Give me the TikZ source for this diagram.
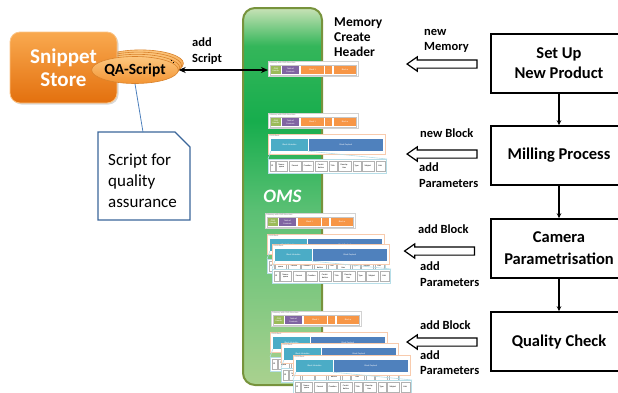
\documentclass[tikz,border=0pt]{standalone}
\usepackage{fontspec}
\setmainfont{Carlito}
\usetikzlibrary{arrows.meta,shapes.arrows,shapes.geometric,shadows}

\definecolor{storetop}{HTML}{F9A94F}
\definecolor{storebot}{HTML}{E3700E}
\definecolor{qatop}{HTML}{FCC77F}
\definecolor{qabot}{HTML}{F39433}
\definecolor{qaline}{HTML}{D9822B}
\definecolor{notebd}{HTML}{3A6699}
\definecolor{omsbd}{HTML}{77933C}
\definecolor{omstop}{HTML}{C8E2B6}
\definecolor{omsupper}{HTML}{34B65A}
\definecolor{omsdark}{HTML}{17AD4D}
\definecolor{omsmid}{HTML}{5BC074}
\definecolor{omsbot}{HTML}{AAD18F}
\definecolor{hdrgreen}{HTML}{9BBB59}
\definecolor{tocpurple}{HTML}{8064A2}
\definecolor{blkorange}{HTML}{F79646}
\definecolor{metacyan}{HTML}{4BACC6}
\definecolor{payblue}{HTML}{4F81BD}
\definecolor{blkbd}{HTML}{F8CBAD}
\definecolor{rowbd}{HTML}{B7DEE8}

\pgfdeclareverticalshading{omsshade}{100bp}{color(0bp)=(omsbot); color(25bp)=(omsbot); color(48bp)=(omsmid); color(60bp)=(omsdark); color(70bp)=(omsupper); color(75bp)=(omstop); color(100bp)=(omstop)}

\tikzset{
  tinytext/.style={font=\fontsize{2.2}{2.5}\selectfont, inner sep=0pt},
  memframe/.style={draw=gray!35, line width=1pt, fill=white, minimum width=90pt, minimum height=15pt, inner sep=0pt},
  memcell/.style={tinytext, text=white, align=center, minimum height=8pt},
  blkframe/.style={draw=blkbd, line width=1.2pt, fill=white, minimum width=117pt, minimum height=20pt, inner sep=0pt},
  rowframe/.style={draw=rowbd, line width=1.2pt, fill=white, minimum width=118pt, minimum height=14pt, inner sep=0pt},
  rowline/.style={draw=rowbd, line width=.6pt},
  fieldcell/.style={tinytext, draw=gray!60, line width=.35pt, fill=white, align=center, minimum height=10pt}
}

% one memory snapshot: name, x, y (top left)
\newcommand{\memstruct}[3]{%
  \node[memframe, anchor=north west] (#1) at (#2,#3) {};
  \begin{scope}[shift={(#2,#3)}]
    \node[tinytext, text=gray, anchor=north west] (#1lbl) at (1.5,0.6) {Memory with OMS Structure};
    \draw[gray!45, line width=.4pt] (2,4) rectangle (88.5,14);
    \node[memcell, fill=hdrgreen, minimum width=10pt] (#1hdr) at (8,9) {OMS\\Header};
    \node[memcell, fill=tocpurple, minimum width=17pt] (#1toc) at (22.5,9) {Table of\\Contents};
    \node[memcell, fill=blkorange, minimum width=23pt] (#1first) at (44.5,9) {Block 1};
    \node[memcell, fill=blkorange, minimum width=7pt] (#1dots) at (60.5,9) {...};
    \node[memcell, fill=blkorange, minimum width=22pt] (#1last) at (77,9) {Block n};
  \end{scope}}

% one OMS block with its metadata fields: name, x, y (top left)
\newcommand{\omsitem}[3]{%
  \node[blkframe, anchor=north west] (#1blk) at (#2,#3) {};
  \begin{scope}[shift={(#2,#3)}]
    \node[tinytext, text=gray, anchor=north west] (#1lbl) at (1.5,0.6) {OMS Block};
    \node[memcell, fill=metacyan, minimum width=37pt, minimum height=11.5pt] (#1meta) at (21.5,11.2) {Block Metadata};
    \node[memcell, fill=payblue, minimum width=73.5pt, minimum height=11.5pt] (#1pay) at (77.8,11.2) {Block Payload};
  \end{scope}
  \node[rowframe, anchor=north west] (#1row) at ({#2},{#3+25}) {};
  \draw[rowline] (#1meta.south west) -- (#1row.north west)
                 (#1meta.south east) -- (#1row.north east);
  \begin{scope}[shift={({#2},{#3+25})}]
    \foreach \cx/\cw/\ct [count=\k] in {4.2/5/ID, 13.65/11.3/{Name-\\space}, 27/11.4/Format,
        39.65/11.3/Creation, 53/12.6/{Contri-\\bution}, 64.7/8/Title, 76.35/12.7/{Descrip-\\tion},
        88.7/8/Type, 99.85/12.3/Subject, 112.2/9/Link}
      \node[fieldcell, minimum width=\cw pt] (#1f\k) at (\cx,7) {\ct};
  \end{scope}}

\begin{document}
\begin{tikzpicture}[x=1pt, y=-1pt,
  store/.style={rounded corners=10pt, draw=storetop!70!white, line width=.8pt, top color=storetop, bottom color=storebot,
    minimum width=107pt, minimum height=71pt, text=white, align=center, font=\bfseries\fontsize{21}{23}\selectfont,
    drop shadow={opacity=.3, shadow xshift=1.5pt, shadow yshift=-1.5pt}},
  qaell/.style={ellipse, draw=qaline, line width=.6pt, top color=qatop, bottom color=qabot,
    minimum width=86pt, minimum height=27pt, inner sep=0pt, font=\bfseries\fontsize{15.5}{17}\selectfont},
  notetext/.style={anchor=west, align=left, inner sep=0pt, font=\fontsize{17}{21}\selectfont},
  notebox/.style={draw=notebd, line width=1.2pt},
  noteline/.style={draw=payblue, line width=.8pt},
  omsbar/.style={rounded corners=12pt, shading=omsshade, draw=omsbd, line width=2pt,
    minimum width=79pt, minimum height=377pt, text=white, font=\bfseries\itshape\fontsize{19}{21}\selectfont},
  hdrlbl/.style={anchor=west, align=left, inner sep=0pt, font=\bfseries\fontsize{13.5}{15}\selectfont},
  lbl/.style={anchor=west, align=left, inner sep=0pt, font=\bfseries\fontsize{12.5}{15.5}\selectfont},
  both/.style={{Stealth[length=7pt,width=6pt]}-{Stealth[length=7pt,width=6pt]}, line width=1.3pt},
  stepbox/.style={draw, line width=1.5pt, minimum width=136pt, minimum height=59pt, align=center,
    font=\bfseries\fontsize{16.5}{20}\selectfont},
  flow/.style={-{Stealth[length=5pt,width=4.5pt]}, line width=1.5pt},
  hollow/.style={single arrow, draw, line width=1.2pt, fill=white, shape border rotate=180,
    minimum height=70pt, inner xsep=0pt, inner ysep=3.5pt, single arrow head extend=3pt, single arrow tip angle=70}]
\useasboundingbox (0,0) rectangle (618,392);
\clip (0,0) rectangle (618,392);

% snippet store with its scripts
\foreach \i in {3,2,1}
  \node[qaell] (qaback\i) at ({135+1.8*\i},{70-2.2*\i}) {};
\node[store] (store) at (63.5,67.5) {Snippet\\Store};
\node[qaell] (qa) at (135,70) {QA-Script};
\fill (171.5,60.5) circle (.6) (173.5,62.5) circle (.6);

\node[notetext] (note) at (108,181) {Script for\\quality\\assurance};
\draw[notebox] ([shift={(-10,-49)}]note.west) -- ([shift={(67,-49)}]note.west)
  -- ([shift={(82,-34)}]note.west) -- ([shift={(82,39)}]note.west)
  -- ([shift={(-10,39)}]note.west) -- cycle;
\coordinate (notetop) at ([shift={(35,-49)}]note.west);
\draw[noteline] (qa.south) -- (notetop);

% OMS memory
\node[omsbar] (oms) at (282.5,196.5) {OMS};
\node[hdrlbl] (hdr) at (334,37) {Memory\\Create\\Header};

\memstruct{memA}{268}{61}
\memstruct{memB}{268}{113}
\omsitem{itB}{268}{134}
\memstruct{memC}{265}{213}
\omsitem{itCa}{267}{234}
\omsitem{itCb}{272}{244}
\memstruct{memD}{271}{311}
\omsitem{itDa}{270}{332}
\omsitem{itDb}{281}{343}
\omsitem{itDc}{293}{355}

\draw[both] (qa.east) -- (qa.east -| memA.west);
\node[lbl] (addscript) at (192,51) {add\\Script};

% process steps
\node[stepbox] (setup) at (559,63.5) {Set Up\\New Product};
\node[stepbox] (milling) at (559,155.5) {Milling Process};
\node[stepbox, font=\bfseries\fontsize{16.5}{22}\selectfont] (camera) at (559,248.5) {Camera\\Parametrisation};
\node[stepbox] (quality) at (559,341.5) {Quality Check};
\draw[flow] (setup) -- (milling);
\draw[flow] (milling) -- (camera);
\draw[flow] (camera) -- (quality);

\node[hollow] (arrA) at (445,64) {};
\node[hollow] (arrB) at (445,154) {};
\node[hollow] (arrC) at (442.5,251) {};
\node[hollow] (arrD) at (445,342) {};

\node[lbl] (lblA) at (424,41) {new\\Memory};
\node[lbl] (lblB) at (420,133) {new Block};
\node[lbl] (lblB2) at (419,175) {add\\Parameters};
\node[lbl] (lblC) at (418,229) {add Block};
\node[lbl] (lblC2) at (420,274) {add\\Parameters};
\node[lbl] (lblD) at (420,325) {add Block};
\node[lbl] (lblD2) at (420,362.5) {add\\Parameters};
\end{tikzpicture}
\end{document}
